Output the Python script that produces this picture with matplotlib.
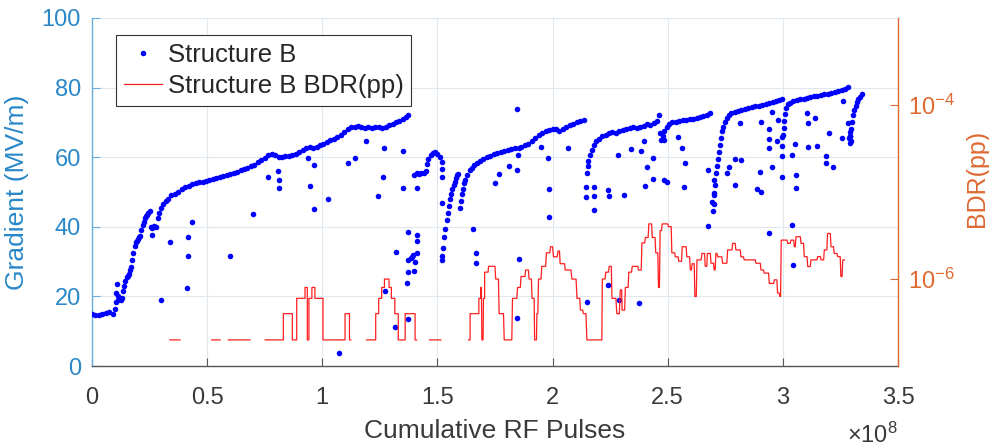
import numpy as np
import matplotlib
matplotlib.use("Agg")
import matplotlib.pyplot as plt
from matplotlib.lines import Line2D
from matplotlib.ticker import NullLocator

plt.rcParams['font.family'] = ['Liberation Sans', 'DejaVu Sans']
plt.rcParams['mathtext.fontset'] = 'custom'
plt.rcParams['mathtext.rm'] = 'Liberation Sans'
plt.rcParams['mathtext.it'] = 'Liberation Sans:italic'
plt.rcParams['mathtext.bf'] = 'Liberation Sans:bold'

NAN = float('nan')

# ---------------- data (x in units of 1e8 cumulative RF pulses) ----------------
# main conditioning trace, gradient in MV/m
trace_x = [0.000, 0.015, 0.030, 0.045, 0.060, 0.075, 0.090, 0.100, 0.103, 0.106, 0.109, 0.112,
           0.115, 0.120, 0.125, 0.130, 0.135, 0.140, 0.145, 0.150, 0.155, 0.160, 0.165, 0.170,
           0.175, 0.180, 0.185, 0.190, 0.195, 0.200, 0.205, 0.210, 0.215, 0.220, 0.225, 0.230,
           0.235, 0.240, 0.245, 0.250, 0.255, 0.262, 0.270, 0.278, 0.285, 0.292, 0.300, 0.310,
           0.320, 0.330, 0.345, 0.360, 0.375, 0.390, 0.405, 0.420, 0.435, 0.450, 0.465, 0.480,
           0.495, 0.510, 0.525, 0.540, 0.555, 0.570, 0.585, 0.600, 0.615, 0.630, 0.645, 0.660,
           0.675, 0.690, 0.705, 0.720, 0.735, 0.750, 0.765, 0.780, 0.795, 0.810, 0.825, 0.840,
           0.855, 0.870, 0.885, 0.900, 0.915, 0.930, 0.945, 0.960, 0.975, 0.990, 1.005, 1.020,
           1.035, 1.050, 1.065, 1.080, 1.095, 1.110, 1.125, 1.140, 1.155, 1.170, 1.185, 1.200,
           1.215, 1.230, 1.245, 1.260, 1.275, 1.290, 1.305, 1.320, 1.335, 1.350, 1.365, 1.372,
           # short plateau
           1.400, 1.410, 1.420, 1.430, 1.440, 1.450, 1.455, 1.460, 1.470, 1.480, 1.490, 1.500,
           1.510, 1.518,
           # recovery 1
           1.520, 1.525, 1.530, 1.535, 1.540, 1.545, 1.550, 1.555, 1.560, 1.565, 1.570, 1.575,
           1.580, 1.585, 1.590,
           1.598, 1.602, 1.606, 1.610, 1.615, 1.620, 1.630, 1.640, 1.650, 1.660, 1.670, 1.685,
           1.700, 1.715, 1.730, 1.745, 1.760, 1.775, 1.790, 1.805, 1.820, 1.835, 1.850, 1.855,
           1.865, 1.880, 1.895, 1.910, 1.925, 1.940, 1.955, 1.970, 1.985, 2.000, 2.015, 2.030,
           2.045, 2.060, 2.075, 2.090, 2.105, 2.120, 2.135,
           # recovery 2
           2.148, 2.152, 2.156, 2.162, 2.170, 2.180, 2.190, 2.200, 2.215, 2.230, 2.245, 2.260,
           2.275, 2.290, 2.305, 2.320, 2.335, 2.350, 2.365, 2.380, 2.395, 2.410, 2.425, 2.440,
           2.452, 2.460, 2.466, 2.472, 2.478, 2.485, 2.495, 2.505, 2.520, 2.535, 2.550, 2.565,
           2.580, 2.595, 2.610, 2.625, 2.640, 2.655, 2.670, 2.685,
           # recovery 3
           2.698, 2.700, 2.703, 2.706, 2.710, 2.714, 2.718, 2.722, 2.726, 2.730, 2.735, 2.740,
           2.748, 2.756, 2.765, 2.775, 2.790, 2.805, 2.820, 2.835, 2.850, 2.865, 2.880, 2.895,
           2.910, 2.925, 2.940, 2.955, 2.970, 2.985, 2.995,
           # recovery 4
           3.000, 3.003, 3.006, 3.010, 3.015, 3.022, 3.030, 3.045, 3.060, 3.075, 3.090, 3.105,
           3.120, 3.135, 3.150, 3.165, 3.180, 3.195, 3.210, 3.225, 3.240, 3.255, 3.270, 3.282,
           # recovery 5
           3.290, 3.293, 3.296, 3.300, 3.305, 3.310, 3.316, 3.322, 3.328, 3.335, 3.342]
trace_y = [15.0, 14.6, 14.8, 15.0, 15.2, 15.4, 15.0, 16.5, 18.5, 21.0, 23.5, 20.0,
           19.0, 19.2, 19.0, 19.5, 21.5, 23.0, 24.5, 25.5, 26.0, 26.5, 27.5, 28.5,
           30.5, 32.5, 34.5, 35.5, 36.0, 36.5, 37.0, 37.5, 39.0, 40.5, 41.5, 42.5,
           43.0, 43.5, 44.0, 44.5, 40.0, 39.8, 40.2, 40.0, 42.5, 44.0, 45.5, 46.5,
           47.5, 48.0, 49.0, 49.5, 50.0, 50.8, 51.5, 51.8, 52.2, 52.6, 52.8, 53.0,
           53.2, 53.4, 53.8, 54.0, 54.2, 54.6, 54.8, 55.2, 55.4, 55.8, 56.2, 56.6,
           57.0, 57.4, 57.8, 58.5, 59.2, 59.8, 60.5, 61.0, 60.5, 60.0, 60.0, 60.2,
           60.4, 60.6, 61.0, 61.5, 62.2, 62.6, 62.8, 62.6, 63.0, 63.4, 63.8, 64.4,
           64.8, 65.2, 65.8, 66.4, 67.2, 68.0, 68.6, 68.8, 69.0, 68.8, 68.5, 68.6,
           68.4, 68.6, 68.8, 68.5, 68.8, 69.2, 69.6, 70.0, 70.5, 71.0, 71.6, 72.0,
           55.0, 55.4, 55.2, 55.4, 55.5, 56.0, 58.0, 59.5, 60.5, 61.2, 61.4, 61.0,
           60.0, 58.5,
           31.5, 34.0, 37.0, 39.5, 42.0, 44.0, 46.0, 48.0, 49.5, 51.0, 52.0, 53.0,
           54.0, 54.8, 55.2,
           45.5, 47.5, 49.5, 51.0, 52.5, 53.5, 55.0, 56.2, 57.0, 57.8, 58.4, 59.0,
           59.5, 60.0, 60.3, 60.8, 61.2, 61.5, 61.8, 62.0, 62.3, 62.6, 60.5, 62.5,
           63.0, 63.4, 63.8, 64.5, 65.5, 66.5, 67.0, 67.4, 67.8, 68.2, 68.0, 67.5,
           68.2, 68.8, 69.2, 69.6, 70.0, 70.4, 70.8,
           55.5, 57.5, 59.0, 60.5, 62.0, 63.5, 64.5, 65.3, 66.0, 66.4, 66.8, 67.2,
           67.0, 67.5, 67.8, 68.0, 68.3, 68.6, 68.4, 68.8, 69.0, 69.5, 69.3, 69.8,
           70.5, 72.0, 67.0, 65.0, 66.0, 67.5, 68.8, 69.5, 70.0, 70.2, 70.4, 70.6,
           70.7, 70.9, 71.0, 71.2, 71.5, 71.8, 72.2, 72.6,
           44.5, 46.5, 49.0, 52.0, 55.5, 57.5, 59.5, 61.5, 63.5, 65.5, 67.5, 68.8,
           70.2, 71.2, 72.0, 72.6, 73.0, 73.3, 73.6, 73.8, 74.0, 74.3, 74.6, 74.8,
           75.1, 75.3, 75.5, 75.8, 76.0, 76.3, 76.6,
           66.5, 68.5, 70.5, 72.5, 74.0, 75.2, 75.6, 76.0, 76.3, 76.6, 76.8, 77.0,
           77.3, 77.5, 77.6, 77.8, 78.0, 78.2, 78.4, 78.7, 78.9, 79.2, 79.5, 80.2,
           64.0, 66.0, 68.0, 70.0, 72.0, 73.5, 74.8, 75.8, 76.6, 77.3, 78.0]

# isolated (post-breakdown) gradient points
out_x = [0.259, 0.300, 0.339, 0.416, 0.416, 0.433, 0.411, 0.600, 0.700, 0.766, 0.806, 0.810,
         0.810, 0.940, 0.947, 0.964, 0.964, 1.027, 1.074, 1.113, 1.140, 1.190, 1.240, 1.263,
         1.270, 1.273, 1.320, 1.316, 1.350, 1.350, 1.374, 1.374, 1.374, 1.370, 1.374, 1.389,
         1.399, 1.410, 1.410, 1.413, 1.413, 1.385, 1.395, 1.403, 1.519, 1.519, 1.519, 1.519,
         1.656, 1.668, 1.668, 1.751, 1.769, 1.845, 1.809, 1.845, 1.855, 1.845, 1.950, 1.982,
         1.985, 1.985, 2.069, 2.145, 2.145, 2.178, 2.182, 2.178, 2.149, 2.240, 2.243, 2.240,
         2.286, 2.289, 2.312, 2.341, 2.376, 2.385, 2.395, 2.402, 2.410, 2.438, 2.438, 2.482,
         2.496, 2.482, 2.544, 2.561, 2.573, 2.569, 2.675, 2.675, 2.699, 2.699, 2.692, 2.757,
         2.768, 2.790, 2.793, 2.815, 2.819, 2.887, 2.902, 2.906, 2.905, 2.938, 2.941, 2.940,
         2.940, 2.953, 2.953, 2.974, 2.977, 2.996, 2.997, 2.997, 2.996, 3.040, 3.041, 3.044,
         3.051, 3.058, 3.058, 3.104, 3.107, 3.141, 3.110, 3.148, 3.188, 3.188, 3.200, 3.218,
         3.259, 3.258, 3.283, 3.290, 3.296, 3.292, 3.287]
out_y = [37.6, 19.0, 35.5, 37.0, 31.6, 41.5, 22.5, 31.6, 43.7, 54.2, 56.1, 53.4,
         51.1, 59.7, 51.7, 57.8, 45.0, 47.9, 3.8, 58.4, 59.7, 64.5, 48.9, 54.2,
         62.5, 21.6, 32.7, 11.1, 61.9, 51.1, 38.4, 30.5, 27.1, 23.9, 13.4, 31.4,
         27.4, 37.6, 35.9, 32.6, 51.1, 31.0, 32.0, 30.0, 56.5, 54.2, 46.9, 30.5,
         39.3, 32.4, 29.7, 52.7, 55.2, 73.7, 57.5, 56.3, 30.7, 13.9, 62.8, 59.9,
         50.8, 42.7, 62.5, 51.5, 48.6, 51.5, 48.9, 44.8, 18.3, 50.6, 48.9, 23.3,
         60.7, 19.0, 49.1, 62.4, 18.0, 61.9, 64.5, 51.7, 57.1, 53.6, 59.7, 53.4,
         52.9, 64.8, 65.7, 62.5, 58.4, 51.3, 56.3, 40.2, 53.4, 49.6, 47.2, 55.5,
         57.1, 52.0, 59.4, 69.9, 59.2, 50.8, 55.6, 50.1, 70.2, 68.0, 65.3, 62.5,
         38.3, 57.2, 72.9, 64.5, 70.7, 65.9, 63.2, 60.3, 54.2, 60.6, 40.5, 29.0,
         63.8, 54.9, 51.1, 72.6, 69.9, 71.2, 62.8, 63.2, 60.3, 58.2, 67.0, 57.2,
         76.2, 65.4, 69.7, 67.3, 64.5, 66.0, 65.5]

# breakdown rate per pulse (NaN = zero, not drawn on log axis)
bdr_x = [0.339, 0.382, NAN,
         0.520, 0.556, NAN,
         0.592, 0.686, NAN,
         0.752, 0.831, 0.831, 0.870, 0.870, 0.889, 0.889, 0.925, 0.925, 0.935, 0.935, 0.942,
         0.942, 0.955, 0.955, 0.968, 0.968, 1.003, 1.003, 1.064, NAN,
         1.069, 1.099, 1.099, 1.118, 1.118, 1.124, NAN,
         1.193, 1.232, 1.232, 1.245, 1.245, 1.258, 1.258, 1.270, 1.270, 1.290, 1.290, 1.300,
         1.300, 1.315, 1.315, 1.330, 1.330, 1.360, 1.360, 1.403, 1.403, 1.410, NAN,
         1.466, 1.515, NAN,
         1.635, 1.642, 1.642, 1.680, 1.680, 1.688, 1.688, 1.691, 1.693, 1.698, 1.700, 1.705,
         1.705, 1.720, 1.722, 1.750, 1.753, 1.765, 1.768, 1.787, 1.790, 1.823, 1.826, 1.845,
         1.848, 1.860, 1.863, 1.880, 1.883, 1.895, 1.898, 1.908, 1.911, 1.920, 1.922, 1.930,
         1.932, 1.936, 1.939, 1.950, 1.953, 1.970, 1.973, 1.988, 1.991, 2.000, 2.004, 2.020,
         2.024, 2.030, 2.033, 2.052, 2.055, 2.080, 2.084, 2.102, 2.106, 2.118, 2.121, 2.131,
         2.134, 2.145, 2.149, 2.214, 2.216, 2.228, 2.231, 2.243, 2.246, 2.255, 2.258, 2.275,
         2.279, 2.290, 2.294, 2.300, 2.302, 2.313, 2.316, 2.328, 2.331, 2.343, 2.346, 2.370,
         2.373, 2.385, 2.388, 2.400, 2.403, 2.415, 2.418, 2.430, 2.433, 2.445, 2.448, 2.457,
         2.460, 2.464, 2.467, 2.473, 2.476, 2.500, 2.503, 2.515, 2.518, 2.530, 2.533, 2.545,
         2.548, 2.560, 2.563, 2.580, 2.583, 2.595, 2.598, 2.603, 2.606, 2.615, 2.618, 2.624,
         2.627, 2.645, 2.649, 2.660, 2.663, 2.670, 2.672, 2.685, 2.688, 2.699, 2.702, 2.706,
         2.709, 2.714, 2.717, 2.735, 2.738, 2.757, 2.760, 2.779, 2.782, 2.793, 2.796, 2.815,
         2.818, 2.829, 2.832, 2.880, 2.883, 2.902, 2.905, 2.916, 2.919, 2.938, 2.941, 2.960,
         2.963, 2.974, 2.977, 2.984, 2.987, 2.990, 2.993, 3.018, 3.021, 3.032, 3.035, 3.047,
         3.050, 3.054, 3.057, 3.076, 3.079, 3.090, 3.093, 3.105, 3.108, 3.119, 3.122, 3.148,
         3.151, 3.163, 3.166, 3.177, 3.180, 3.191, 3.194, 3.206, 3.209, 3.220, 3.223, 3.235,
         3.238, 3.249, 3.252, 3.257, 3.260, 3.267]
bdr_v = [2e-7, 2e-7, NAN,
         2e-7, 2e-7, NAN,
         2e-7, 2e-7, NAN,
         2e-7, 2e-7, 4e-7, 4e-7, 2e-7, 2e-7, 6e-7, 6e-7, 8e-7, 8e-7, 2e-7, 2e-7,
         6e-7, 6e-7, 8e-7, 8e-7, 6e-7, 6e-7, 2e-7, 2e-7, NAN,
         2e-7, 2e-7, 4e-7, 4e-7, 2e-7, 2e-7, NAN,
         2e-7, 2e-7, 4e-7, 4e-7, 6e-7, 6e-7, 8e-7, 8e-7, 1e-6, 1e-6, 8e-7, 8e-7,
         6e-7, 6e-7, 4e-7, 4e-7, 2e-7, 2e-7, 4e-7, 4e-7, 2e-7, 2e-7, NAN,
         2e-7, 2e-7, NAN,
         2e-7, 2e-7, 4e-7, 4e-7, 6e-7, 6e-7, 8e-7, 8e-7, 2e-7, 2e-7, 6e-7, 6e-7,
         1.2e-6, 1.2e-6, 1.4e-6, 1.4e-6, 1.0e-6, 1.0e-6, 4e-7, 4e-7, 2e-7, 2e-7, 6e-7, 6e-7,
         8e-7, 8e-7, 1.07e-6, 1.07e-6, 1.27e-6, 1.27e-6, 1.0e-6, 1.0e-6, 6e-7, 6e-7, 2e-7, 2e-7,
         4e-7, 4e-7, 1.0e-6, 1.0e-6, 1.4e-6, 1.4e-6, 2.0e-6, 2.0e-6, 2.35e-6, 2.35e-6, 1.8e-6, 1.8e-6,
         2.1e-6, 2.1e-6, 1.5e-6, 1.5e-6, 1.27e-6, 1.27e-6, 1.0e-6, 1.0e-6, 6e-7, 6e-7, 4.4e-7, 4.4e-7,
         4e-7, 4e-7, 2e-7, 2e-7, 1.0e-6, 1.0e-6, 1.2e-6, 1.2e-6, 1.4e-6, 1.4e-6, 6e-7, 6e-7,
         4e-7, 4e-7, 7.5e-7, 7.5e-7, 4.4e-7, 4.4e-7, 8e-7, 8e-7, 1.2e-6, 1.2e-6, 1.4e-6, 1.4e-6,
         1.27e-6, 1.27e-6, 2.6e-6, 2.6e-6, 3.0e-6, 3.0e-6, 4.3e-6, 4.3e-6, 3.0e-6, 3.0e-6, 2.0e-6, 2.0e-6,
         8e-7, 8e-7, 3.6e-6, 3.6e-6, 4.3e-6, 4.3e-6, 4.0e-6, 4.0e-6, 2.0e-6, 2.0e-6, 1.8e-6, 1.8e-6,
         1.6e-6, 1.6e-6, 2.35e-6, 2.35e-6, 1.8e-6, 1.8e-6, 1.27e-6, 1.27e-6, 1.5e-6, 1.5e-6, 6.3e-7, 6.3e-7,
         1.66e-6, 1.66e-6, 1.97e-6, 1.97e-6, 1.4e-6, 1.4e-6, 1.97e-6, 1.97e-6, 1.52e-6, 1.52e-6, 1.27e-6, 1.27e-6,
         1.97e-6, 1.97e-6, 1.8e-6, 1.8e-6, 1.52e-6, 1.52e-6, 2.16e-6, 2.16e-6, 2.57e-6, 2.57e-6, 2.16e-6, 2.16e-6,
         1.8e-6, 1.8e-6, 1.66e-6, 1.66e-6, 1.52e-6, 1.52e-6, 1.27e-6, 1.27e-6, 1.17e-6, 1.17e-6, 8.9e-7, 8.9e-7,
         9.8e-7, 9.8e-7, 6.9e-7, 6.9e-7, 6.3e-7, 6.3e-7, 2.8e-6, 2.8e-6, 2.57e-6, 2.57e-6, 2.8e-6, 2.8e-6,
         2.35e-6, 2.35e-6, 3.06e-6, 3.06e-6, 2.57e-6, 2.57e-6, 1.81e-6, 1.81e-6, 1.39e-6, 1.39e-6, 1.66e-6, 1.66e-6,
         1.81e-6, 1.81e-6, 1.66e-6, 1.66e-6, 2.16e-6, 2.16e-6, 3.34e-6, 3.34e-6, 2.35e-6, 2.35e-6, 1.97e-6, 1.97e-6,
         1.81e-6, 1.81e-6, 1.07e-6, 1.07e-6, 1.66e-6, 1.66e-6]

x_ticks = [0, 0.5, 1, 1.5, 2, 2.5, 3, 3.5]
x_ticklabels = ['0', '0.5', '1', '1.5', '2', '2.5', '3', '3.5']
y_ticks = [0, 20, 40, 60, 80, 100]
bdr_ticks = [1e-6, 1e-4]

# ---------------- styling ----------------
BLUE_AX = '#2a88c8'
ORANGE_AX = '#de6a32'
TXT = '#3a3a3a'

fig = plt.figure(figsize=(9.89, 4.47), dpi=100)
ax = fig.add_axes([0.093, 0.181, 0.815, 0.779])
ax2 = ax.twinx()

gx = np.concatenate([np.array(trace_x), np.array(out_x)])
gy = np.concatenate([np.array(trace_y), np.array(out_y)])
ax.plot(gx, gy, linestyle='none', marker='o', ms=4.0, mew=0, color='#0000ff', zorder=3)

ax2.plot(np.array(bdr_x), np.array(bdr_v), color='#ff1e1e', lw=0.9, zorder=2)

ax.set_xlim(0, 3.5)
ax.set_ylim(0, 100)
ax.set_xticks(x_ticks)
ax.set_xticklabels(x_ticklabels)
ax.set_yticks(y_ticks)
ax.grid(True, color='#dfe7ef', lw=0.8)
ax.set_axisbelow(True)

ax2.set_yscale('log')
ax2.set_ylim(1e-7, 1e-3)
ax2.set_yticks(bdr_ticks)
ax2.yaxis.set_minor_locator(NullLocator())

for a in (ax, ax2):
    a.spines['top'].set_visible(False)
ax.spines['right'].set_visible(False)
ax2.spines['left'].set_visible(False)
ax2.spines['bottom'].set_visible(False)
ax.spines['left'].set_color('#6aaede')
ax.spines['bottom'].set_color('#555555')
ax2.spines['right'].set_color(ORANGE_AX)
for s in ('left', 'bottom'):
    ax.spines[s].set_linewidth(1.0)
ax2.spines['right'].set_linewidth(1.0)

ax.tick_params(axis='x', direction='in', length=6, width=0.8, colors='#555555',
               labelcolor=TXT, labelsize=17, pad=15)
ax.tick_params(axis='y', direction='in', length=6, width=0.8, colors='#6aaede',
               labelcolor=BLUE_AX, labelsize=17, pad=8)
ax2.tick_params(axis='y', which='both', direction='in', length=6, width=0.8,
                colors=ORANGE_AX, labelcolor=ORANGE_AX, labelsize=17, pad=7)

ax.set_xlabel('Cumulative RF Pulses', fontsize=19, color=TXT, labelpad=7)
ax.set_ylabel('Gradient (MV/m)', fontsize=19, color=BLUE_AX)
ax.yaxis.set_label_coords(-0.078, 0.5)
ax2.set_ylabel('BDR(pp)', fontsize=18, color=ORANGE_AX)
ax2.yaxis.set_label_coords(1.083, 0.54)

fig.text(898 / 989, 1 - 443 / 447, r'$\times\mathregular{10^{8}}$', ha='right', va='baseline',
         fontsize=17, color=TXT)

handles = [Line2D([], [], linestyle='none', marker='o', ms=4.0, mew=0, color='#0000ff'),
           Line2D([], [], color='#ff1e1e', lw=0.9)]
leg = ax2.legend(handles, ['Structure B', 'Structure B BDR(pp)'], loc='upper left',
                 bbox_to_anchor=(0.03, 0.951), fontsize=18.5, frameon=True, fancybox=False,
                 framealpha=1, edgecolor='#333333', borderpad=0.3, labelspacing=0.3,
                 handlelength=1.5, handletextpad=0.2, borderaxespad=0)
leg.get_frame().set_linewidth(0.8)
for t in leg.get_texts():
    t.set_color('#262626')

fig.savefig('out.png', dpi=100)
